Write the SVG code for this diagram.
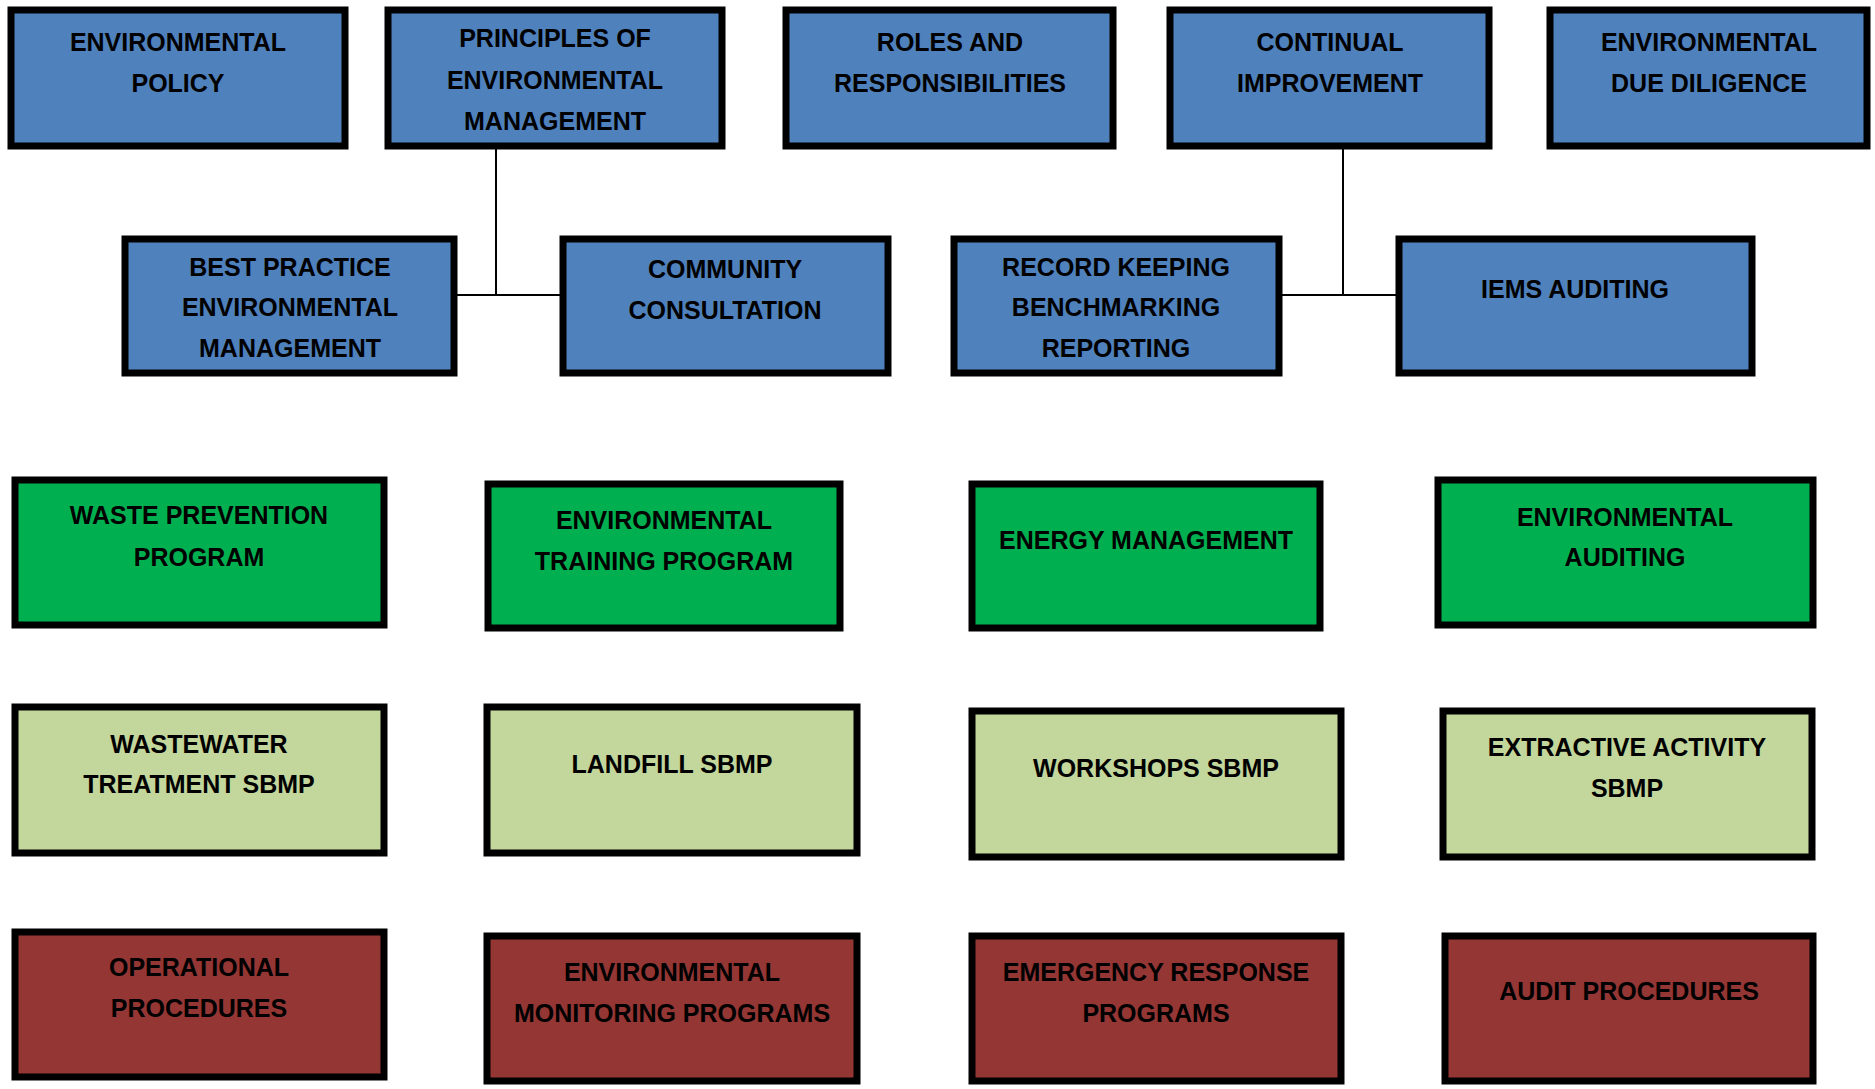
<svg xmlns="http://www.w3.org/2000/svg" width="1875" height="1089" viewBox="0 0 1875 1089">
  <style>
    .box { stroke: #000; stroke-width: 7; }
    .blue { fill: #4F81BD; }
    .green { fill: #00B050; }
    .lime { fill: #C3D69B; }
    .red { fill: #943634; }
    .lbl { font-family: "Liberation Sans", Arial, sans-serif; font-weight: bold; font-size: 25px; fill: #000; text-anchor: middle; }
    .link { stroke: #000; stroke-width: 2; fill: none; }
  </style>
  <rect width="1875" height="1089" fill="#fff"/>

  <!-- connectors -->
  <g id="connectors">
    <path class="link" d="M496 148 V295 M457 295 H560"/>
    <path class="link" d="M1343 148 V295 M1282 295 H1396"/>
  </g>

  <!-- top tier -->
  <g id="env-policy">
    <rect class="box blue" x="11" y="10" width="334" height="136"/>
    <text class="lbl" x="178" y="51">ENVIRONMENTAL</text>
    <text class="lbl" x="178" y="92">POLICY</text>
  </g>
  <g id="principles">
    <rect class="box blue" x="388" y="10" width="334" height="136"/>
    <text class="lbl" x="555" y="47">PRINCIPLES OF</text>
    <text class="lbl" x="555" y="89">ENVIRONMENTAL</text>
    <text class="lbl" x="555" y="130">MANAGEMENT</text>
  </g>
  <g id="roles">
    <rect class="box blue" x="786" y="10" width="327" height="136"/>
    <text class="lbl" x="950" y="51">ROLES AND</text>
    <text class="lbl" x="950" y="92">RESPONSIBILITIES</text>
  </g>
  <g id="continual">
    <rect class="box blue" x="1170" y="10" width="319" height="136"/>
    <text class="lbl" x="1330" y="51">CONTINUAL</text>
    <text class="lbl" x="1330" y="92">IMPROVEMENT</text>
  </g>
  <g id="due-diligence">
    <rect class="box blue" x="1550" y="10" width="317" height="136"/>
    <text class="lbl" x="1709" y="51">ENVIRONMENTAL</text>
    <text class="lbl" x="1709" y="92">DUE DILIGENCE</text>
  </g>

  <!-- second tier -->
  <g id="best-practice">
    <rect class="box blue" x="125" y="239" width="329" height="134"/>
    <text class="lbl" x="290" y="276">BEST PRACTICE</text>
    <text class="lbl" x="290" y="316">ENVIRONMENTAL</text>
    <text class="lbl" x="290" y="357">MANAGEMENT</text>
  </g>
  <g id="community">
    <rect class="box blue" x="563" y="239" width="325" height="134"/>
    <text class="lbl" x="725" y="278">COMMUNITY</text>
    <text class="lbl" x="725" y="319">CONSULTATION</text>
  </g>
  <g id="record-keeping">
    <rect class="box blue" x="954" y="239" width="325" height="134"/>
    <text class="lbl" x="1116" y="276">RECORD KEEPING</text>
    <text class="lbl" x="1116" y="316">BENCHMARKING</text>
    <text class="lbl" x="1116" y="357">REPORTING</text>
  </g>
  <g id="iems-auditing">
    <rect class="box blue" x="1399" y="239" width="353" height="134"/>
    <text class="lbl" x="1575" y="298">IEMS AUDITING</text>
  </g>

  <!-- programs -->
  <g id="waste-prevention">
    <rect class="box green" x="15" y="480" width="369" height="145"/>
    <text class="lbl" x="199" y="524">WASTE PREVENTION</text>
    <text class="lbl" x="199" y="566">PROGRAM</text>
  </g>
  <g id="training">
    <rect class="box green" x="488" y="484" width="352" height="144"/>
    <text class="lbl" x="664" y="529">ENVIRONMENTAL</text>
    <text class="lbl" x="664" y="570">TRAINING PROGRAM</text>
  </g>
  <g id="energy">
    <rect class="box green" x="972" y="484" width="348" height="144"/>
    <text class="lbl" x="1146" y="549">ENERGY MANAGEMENT</text>
  </g>
  <g id="env-auditing">
    <rect class="box green" x="1438" y="480" width="375" height="145"/>
    <text class="lbl" x="1625" y="526">ENVIRONMENTAL</text>
    <text class="lbl" x="1625" y="566">AUDITING</text>
  </g>

  <!-- site based management plans -->
  <g id="wastewater">
    <rect class="box lime" x="15" y="707" width="369" height="146"/>
    <text class="lbl" x="199" y="753">WASTEWATER</text>
    <text class="lbl" x="199" y="793">TREATMENT SBMP</text>
  </g>
  <g id="landfill">
    <rect class="box lime" x="487" y="707" width="370" height="146"/>
    <text class="lbl" x="672" y="773">LANDFILL SBMP</text>
  </g>
  <g id="workshops">
    <rect class="box lime" x="972" y="711" width="369" height="146"/>
    <text class="lbl" x="1156" y="777">WORKSHOPS SBMP</text>
  </g>
  <g id="extractive">
    <rect class="box lime" x="1443" y="711" width="369" height="146"/>
    <text class="lbl" x="1627" y="756">EXTRACTIVE ACTIVITY</text>
    <text class="lbl" x="1627" y="797">SBMP</text>
  </g>

  <!-- procedures -->
  <g id="operational">
    <rect class="box red" x="15" y="932" width="369" height="145"/>
    <text class="lbl" x="199" y="976">OPERATIONAL</text>
    <text class="lbl" x="199" y="1017">PROCEDURES</text>
  </g>
  <g id="monitoring">
    <rect class="box red" x="487" y="936" width="370" height="145"/>
    <text class="lbl" x="672" y="981">ENVIRONMENTAL</text>
    <text class="lbl" x="672" y="1022">MONITORING PROGRAMS</text>
  </g>
  <g id="emergency">
    <rect class="box red" x="972" y="936" width="369" height="145"/>
    <text class="lbl" x="1156" y="981">EMERGENCY RESPONSE</text>
    <text class="lbl" x="1156" y="1022">PROGRAMS</text>
  </g>
  <g id="audit-procedures">
    <rect class="box red" x="1445" y="936" width="368" height="145"/>
    <text class="lbl" x="1629" y="1000">AUDIT PROCEDURES</text>
  </g>
</svg>
